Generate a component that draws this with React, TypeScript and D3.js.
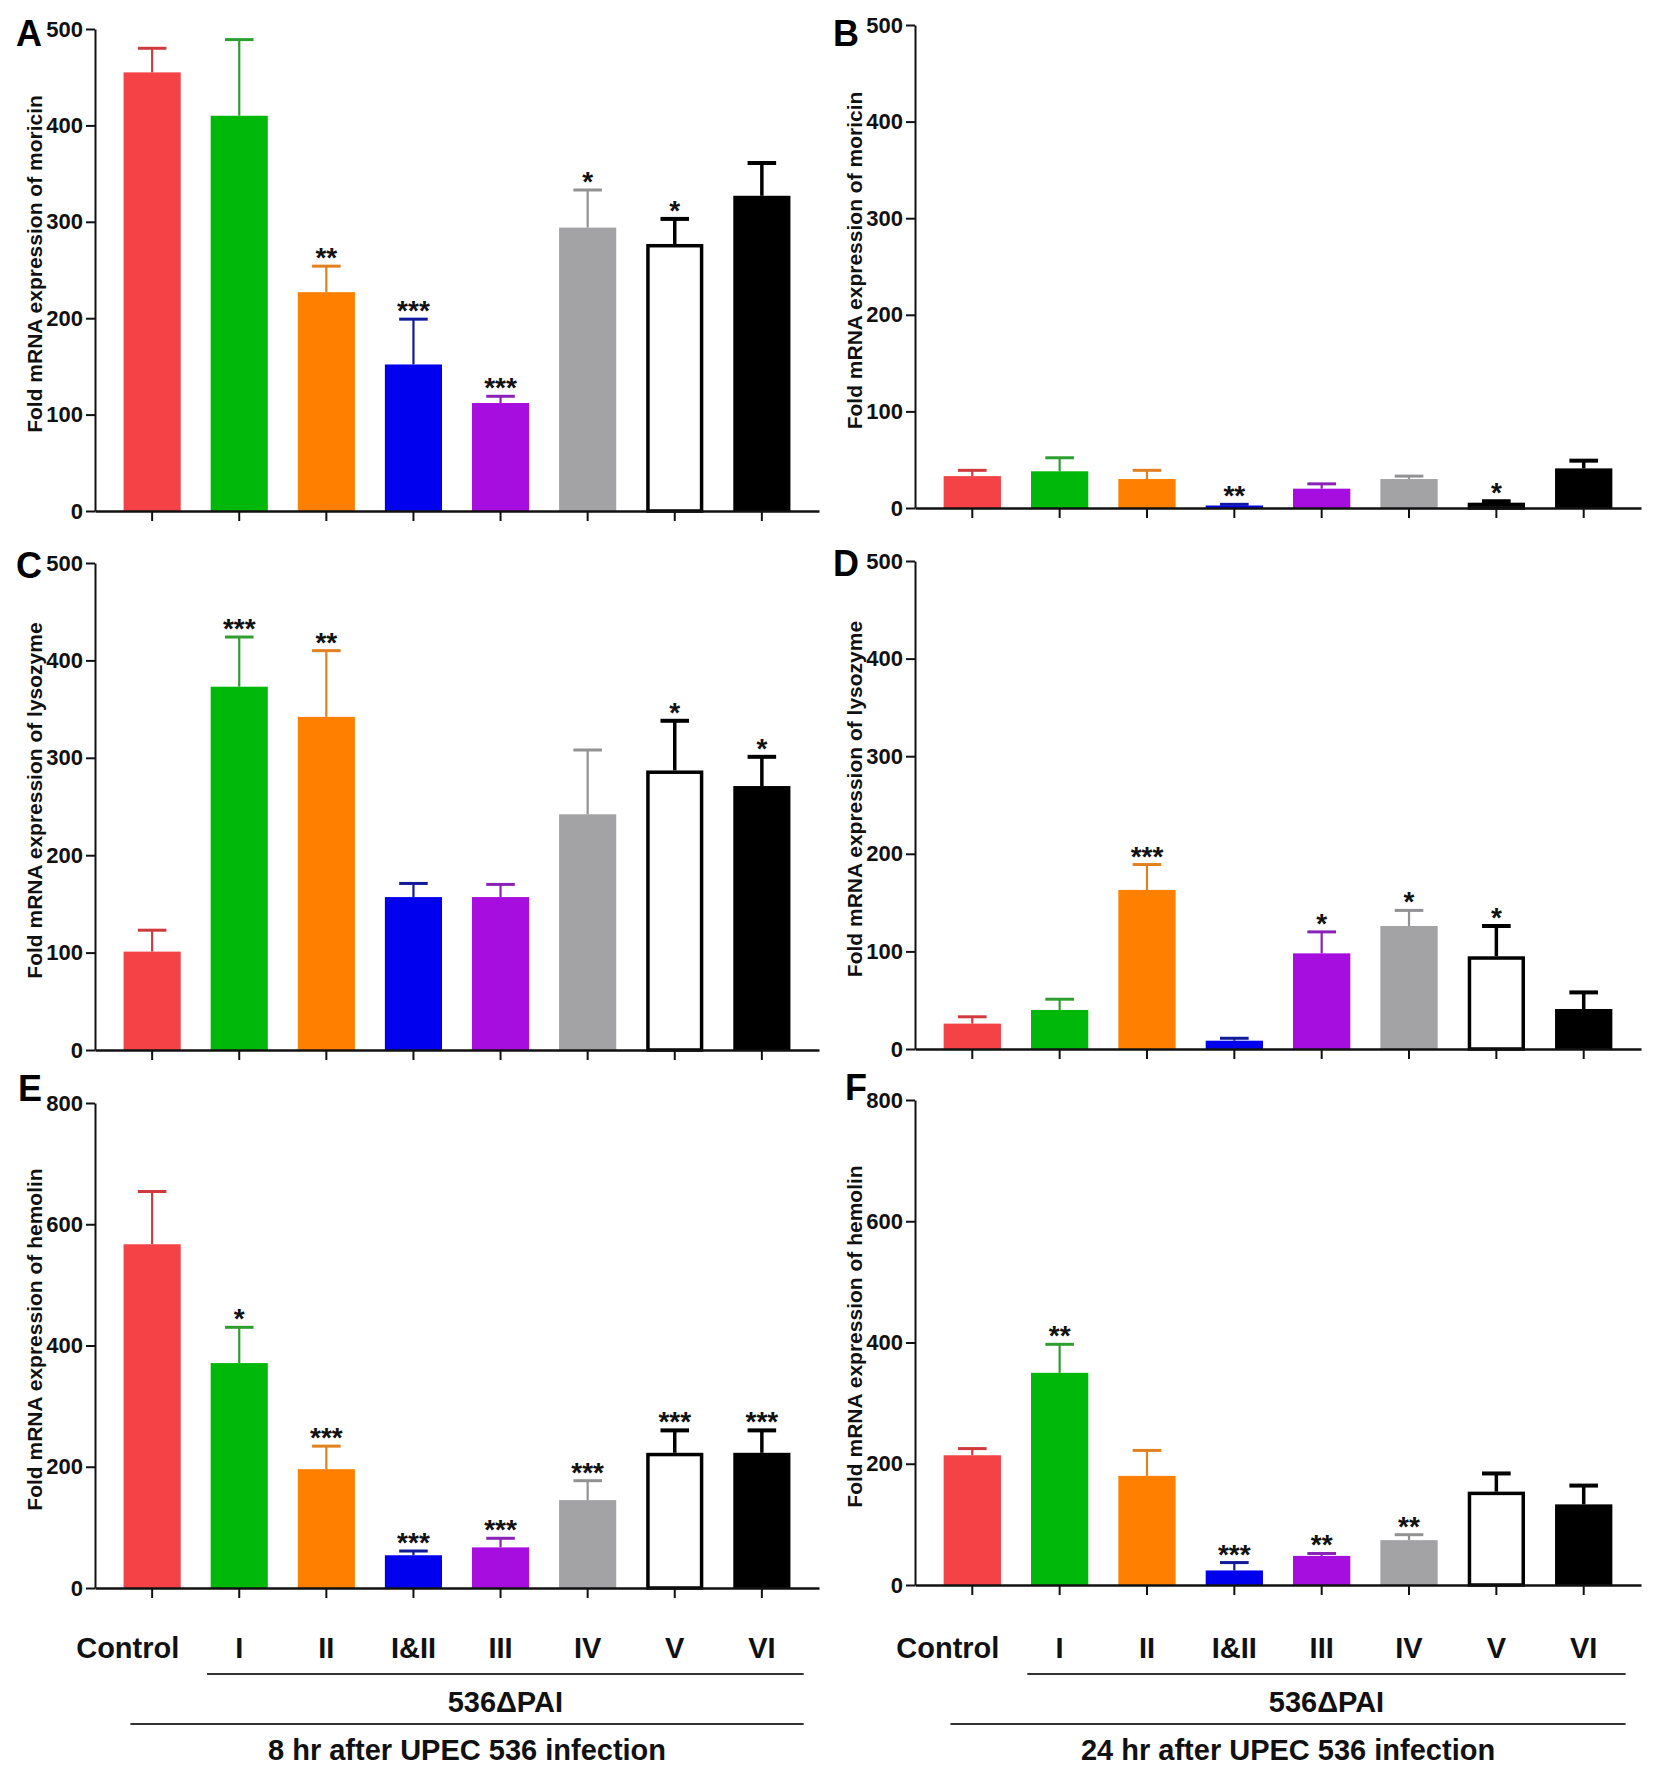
import { useEffect, useRef } from "react";
import * as d3 from "d3";

// groups on the x axis
const categories = ["Control", "I", "II", "I&II", "III", "IV", "V", "VI"];
const barColors = ["#f44246", "#00b80a", "#ff8000", "#0000ee", "#a60ddf", "#a3a3a6", "#ffffff", "#000000"];
const errColors = ["#cf3a3e", "#2e9e2e", "#e0801e", "#101a9a", "#8a22b8", "#929294", "#000000", "#000000"];

// A: moricin, 8 hr
const moricin8 = [455, 410, 227, 152, 112, 294, 277, 327];
const moricin8Sem = [25, 79, 27, 47, 7, 39, 26, 34];
const moricin8Sig = ["", "", "**", "***", "***", "*", "*", ""];
// B: moricin, 24 hr
const moricin24 = [33, 38, 30, 2.6, 20, 30, 5.5, 41];
const moricin24Sem = [6, 14, 9, 1.2, 5, 3, 1.5, 8];
const moricin24Sig = ["", "", "", "**", "", "", "*", ""];
// C: lysozyme, 8 hr
const lysozyme8 = [101, 373, 342, 157, 157, 242, 287, 271];
const lysozyme8Sem = [22, 51, 68, 14, 13, 66, 51, 30];
const lysozyme8Sig = ["", "***", "**", "", "", "", "*", "*"];
// D: lysozyme, 24 hr
const lysozyme24 = [26, 40, 163, 8.5, 98, 126, 95, 41];
const lysozyme24Sem = [7, 11, 26, 2.5, 22, 16, 31, 17];
const lysozyme24Sig = ["", "", "***", "", "*", "*", "*", ""];
// E: hemolin, 8 hr
const hemolin8 = [567, 371, 196, 54, 67, 145, 223, 223];
const hemolin8Sem = [87, 59, 38, 7, 15, 32, 37, 37];
const hemolin8Sig = ["", "*", "***", "***", "***", "***", "***", "***"];
// F: hemolin, 24 hr
const hemolin24 = [214, 350, 180, 24, 48, 74, 154, 133];
const hemolin24Sem = [11, 47, 42, 13, 4, 9, 30, 31];
const hemolin24Sig = ["", "**", "", "***", "**", "**", "", ""];

const FONT = "'Liberation Sans', Arial, Helvetica, sans-serif";

interface Panel {
  letter: string; title: string;
  vals: number[]; sem: number[]; sig: string[];
  yMax: number; yStep: number;
  x0: number; x1: number; yTop: number; yZero: number;
  lx: number; ly: number;
}

const panels: Panel[] = [
  { letter: "A", title: "Fold mRNA expression of moricin", vals: moricin8, sem: moricin8Sem, sig: moricin8Sig,
    yMax: 500, yStep: 100, x0: 95, x1: 819, yTop: 29, yZero: 511, lx: 16, ly: 46 },
  { letter: "B", title: "Fold mRNA expression of moricin", vals: moricin24, sem: moricin24Sem, sig: moricin24Sig,
    yMax: 500, yStep: 100, x0: 915, x1: 1641, yTop: 25, yZero: 508, lx: 833, ly: 46 },
  { letter: "C", title: "Fold mRNA expression of lysozyme", vals: lysozyme8, sem: lysozyme8Sem, sig: lysozyme8Sig,
    yMax: 500, yStep: 100, x0: 95, x1: 819, yTop: 563, yZero: 1050, lx: 16, ly: 578 },
  { letter: "D", title: "Fold mRNA expression of lysozyme", vals: lysozyme24, sem: lysozyme24Sem, sig: lysozyme24Sig,
    yMax: 500, yStep: 100, x0: 915, x1: 1641, yTop: 561, yZero: 1049, lx: 833, ly: 576 },
  { letter: "E", title: "Fold mRNA expression of hemolin", vals: hemolin8, sem: hemolin8Sem, sig: hemolin8Sig,
    yMax: 800, yStep: 200, x0: 95, x1: 819, yTop: 1103, yZero: 1588, lx: 18, ly: 1101 },
  { letter: "F", title: "Fold mRNA expression of hemolin", vals: hemolin24, sem: hemolin24Sem, sig: hemolin24Sig,
    yMax: 800, yStep: 200, x0: 915, x1: 1641, yTop: 1100, yZero: 1585, lx: 845, ly: 1100 },
];

function bandScale(p: Panel) {
  return d3.scaleBand<string>().domain(categories).range([p.x0, p.x1])
    .paddingInner(0.344).paddingOuter(0.328);
}

export default function App() {
  const ref = useRef<SVGSVGElement>(null);

  useEffect(() => {
    if (!ref.current) return;
    const svg = d3.select(ref.current);
    svg.selectAll("*").remove();
    svg.append("rect").attr("width", 1654).attr("height", 1773).attr("fill", "#fff");

    for (const p of panels) {
      const g = svg.append("g").attr("font-family", FONT).attr("font-weight", "bold");
      const x = bandScale(p);
      const y = d3.scaleLinear().domain([0, p.yMax]).range([p.yZero, p.yTop]);
      const bw = x.bandwidth();
      const rows = categories.map((c, i) => ({ c, i, v: p.vals[i], e: p.sem[i], s: p.sig[i] }));

      // error bars (upper only)
      const eb = g.selectAll("g.err").data(rows).enter().append("g").attr("class", "err");
      eb.append("line")
        .attr("x1", d => x(d.c)! + bw / 2).attr("x2", d => x(d.c)! + bw / 2)
        .attr("y1", d => y(d.v)).attr("y2", d => y(d.v + d.e))
        .attr("stroke", d => errColors[d.i]).attr("stroke-width", d => d.i >= 6 ? 3.5 : 2.2);
      eb.append("line")
        .attr("x1", d => x(d.c)! + bw / 4).attr("x2", d => x(d.c)! + bw * 3 / 4)
        .attr("y1", d => y(d.v + d.e)).attr("y2", d => y(d.v + d.e))
        .attr("stroke", d => errColors[d.i]).attr("stroke-width", d => d.i >= 6 ? 4 : 3);

      // bars
      g.selectAll("rect.bar").data(rows).enter().append("rect")
        .attr("class", "bar")
        .attr("x", d => x(d.c)! + (d.i === 6 ? 1.75 : 0))
        .attr("width", d => bw - (d.i === 6 ? 3.5 : 0))
        .attr("y", d => y(d.v) + (d.i === 6 ? 1.75 : 0))
        .attr("height", d => Math.max(0, p.yZero - y(d.v) - (d.i === 6 ? 1.75 : 0)))
        .attr("fill", d => barColors[d.i])
        .attr("stroke", d => d.i === 6 ? "#000" : "none")
        .attr("stroke-width", 3.5);

      // significance stars
      g.selectAll("text.sig").data(rows.filter(d => d.s)).enter().append("text")
        .attr("class", "sig")
        .attr("x", d => x(d.c)! + bw / 2)
        .attr("y", d => y(d.v + d.e) + 1)
        .attr("text-anchor", "middle").attr("font-size", 28).attr("fill", "#111")
        .text(d => d.s);

      // axes
      g.append("g").attr("transform", `translate(0,${p.yZero})`)
        .call(d3.axisBottom(x).tickSize(10).tickSizeOuter(0).tickFormat(() => ""))
        .call(a => a.select(".domain").attr("stroke", "#111").attr("stroke-width", 2.5))
        .call(a => a.selectAll(".tick line").attr("stroke", "#111").attr("stroke-width", 2));
      g.append("g").attr("transform", `translate(${p.x0},0)`)
        .call(d3.axisLeft(y).tickValues(d3.range(0, p.yMax + 1, p.yStep)).tickSize(9).tickSizeOuter(0).tickPadding(3))
        .call(a => a.select(".domain").attr("stroke", "#111").attr("stroke-width", 2))
        .call(a => a.selectAll(".tick line").attr("stroke", "#111").attr("stroke-width", 2))
        .call(a => a.selectAll("text").attr("font-size", 22).attr("font-family", FONT)
          .attr("font-weight", "bold").attr("fill", "#111"));

      // y title
      g.append("text")
        .attr("transform", `translate(${p.x0 - 53},${(p.yTop + p.yZero) / 2 - 6}) rotate(-90)`)
        .attr("text-anchor", "middle").attr("font-size", 21).attr("fill", "#111")
        .text(p.title);

      // panel letter
      g.append("text").attr("x", p.lx).attr("y", p.ly)
        .attr("font-size", 36).attr("fill", "#000").text(p.letter);
    }

    // group labels under the bottom panels
    const groupTitles = ["8 hr after UPEC 536 infection", "24 hr after UPEC 536 infection"];
    [panels[4], panels[5]].forEach((p, k) => {
      const x = bandScale(p);
      const bw = x.bandwidth();
      const step = x.step();
      const cx = (c: string) => x(c)! + bw / 2;
      const g = svg.append("g").attr("font-family", FONT).attr("font-weight", "bold").attr("fill", "#111");
      g.selectAll("text.cat").data(categories).enter().append("text")
        .attr("class", "cat")
        .attr("x", d => cx(d) - (d === "Control" ? 0.28 * step : 0)).attr("y", 1658)
        .attr("text-anchor", "middle").attr("font-size", 29)
        .text(d => d);
      const l1a = cx("I") - 0.37 * step, l1b = cx("VI") + 0.48 * step;
      const l2a = cx("Control") - 0.25 * step;
      g.append("line").attr("x1", l1a).attr("x2", l1b).attr("y1", 1674).attr("y2", 1674)
        .attr("stroke", "#333").attr("stroke-width", 2);
      g.append("text").attr("x", (l1a + l1b) / 2).attr("y", 1712)
        .attr("text-anchor", "middle").attr("font-size", 29).text("536ΔPAI");
      g.append("line").attr("x1", l2a).attr("x2", l1b).attr("y1", 1724).attr("y2", 1724)
        .attr("stroke", "#333").attr("stroke-width", 2);
      g.append("text").attr("x", (l2a + l1b) / 2).attr("y", 1760)
        .attr("text-anchor", "middle").attr("font-size", 29).text(groupTitles[k]);
    });
  }, []);

  return (
    <svg ref={ref} width={1654} height={1773}
      style={{ position: "absolute", left: 0, top: 0, display: "block" }} />
  );
}
